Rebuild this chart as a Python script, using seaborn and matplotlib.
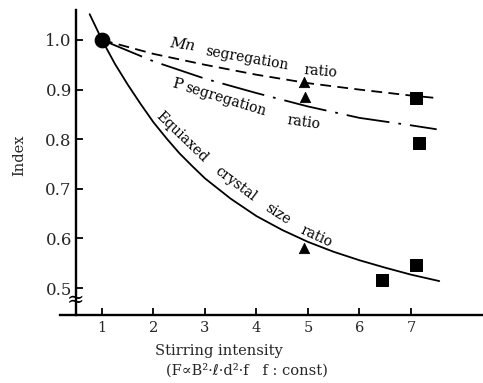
import numpy as np
import pandas as pd
import matplotlib
matplotlib.use("Agg")
import matplotlib.pyplot as plt
import seaborn as sns

# ---- data ----
eq_x = [0.76, 1.0, 1.25, 1.5, 1.75, 2.0, 2.25, 2.5, 2.75, 3.0, 3.5, 4.0, 4.5, 5.0, 5.5, 6.0, 6.5, 7.0, 7.55]
eq_y = [1.052, 1.0, 0.952, 0.910, 0.871, 0.834, 0.802, 0.772, 0.746, 0.721, 0.680, 0.645, 0.617, 0.593, 0.573, 0.556, 0.541, 0.527, 0.514]

mn_x = [1.0, 2.0, 3.0, 4.0, 5.0, 6.0, 7.0, 7.5]
mn_y = [1.0, 0.972, 0.950, 0.930, 0.913, 0.900, 0.888, 0.883]

p_x = [1.0, 2.0, 3.0, 4.0, 5.0, 6.0, 7.0, 7.5]
p_y = [1.0, 0.957, 0.922, 0.893, 0.866, 0.843, 0.828, 0.820]

circle_x, circle_y = [1.0], [1.0]
tri_x = [4.92, 4.95, 4.92]
tri_y = [0.915, 0.885, 0.580]
sq_x = [7.1, 7.16, 6.43, 7.1]
sq_y = [0.883, 0.793, 0.516, 0.546]

xticks = [1, 2, 3, 4, 5, 6, 7]
yticks = [1.0, 0.9, 0.8, 0.7, 0.6, 0.5]
ytick_labels = ["1.0", "0.9", "0.8", "0.7", "0.6", "0.5"]

sns.set_theme(style="white")
plt.rcParams["font.family"] = ["DejaVu Serif", "DejaVu Sans"]

fig = plt.figure(figsize=(4.83, 3.83), dpi=100)
W, H = 483, 383
ax = fig.add_axes([60 / W, (H - 315) / H, 423 / W, (315 - 8) / H])

lw = 1.3
sns.lineplot(x=eq_x, y=eq_y, ax=ax, color="black", lw=lw, sort=False)
sns.lineplot(x=mn_x, y=mn_y, ax=ax, color="black", lw=lw, sort=False,
             linestyle=(0, (6, 3.5)))
sns.lineplot(x=p_x, y=p_y, ax=ax, color="black", lw=lw, sort=False,
             linestyle=(0, (24, 5, 1.5, 5)))

sns.scatterplot(x=circle_x, y=circle_y, ax=ax, color="black", marker="o", s=110,
                edgecolor="black", zorder=5)
sns.scatterplot(x=tri_x, y=tri_y, ax=ax, color="black", marker="^", s=55,
                edgecolor="black", zorder=5)
sns.scatterplot(x=sq_x, y=sq_y, ax=ax, color="black", marker="s", s=80,
                edgecolor="black", zorder=5)

ax.set_xlim(0.184, 8.40)
ax.set_ylim(0.4456, 1.0645)

for s in ["top", "right"]:
    ax.spines[s].set_visible(False)
ax.spines["left"].set_position(("data", 0.495))
ax.spines["left"].set_bounds(0.4456, 1.06)
for s in ["left", "bottom"]:
    ax.spines[s].set_color("black")
    ax.spines[s].set_linewidth(1.7)

ax.set_xticks(xticks)
ax.set_xticklabels([str(t) for t in xticks], fontsize=10.5)
ax.set_yticks(yticks)
ax.set_yticklabels(ytick_labels, fontsize=12)
ax.tick_params(axis="both", direction="in", length=5, width=1.3, color="black",
               left=True, bottom=True)
ax.tick_params(axis="y", pad=3)
ax.tick_params(axis="x", pad=4)

# axis break mark
ax.text(0.495, 0.474, "≈", ha="center", va="center", fontsize=15, color="black")

# curve labels
def px2data(px, py):
    return 1 + (px - 102) / 51.5, 1.0 - (py - 40) / 496

labels = [
    ("Mn", 182, 45, -8, "italic"),
    ("segregation", 247, 58, -10, "normal"),
    ("ratio", 321, 71, -5, "normal"),
    ("P", 177, 84, -15, "normal"),
    ("segregation", 226, 100, -17, "normal"),
    ("ratio", 304, 122, -8, "normal"),
    ("Equiaxed", 182, 137, -44, "normal"),
    ("crystal", 236, 184, -37, "normal"),
    ("size", 278, 214, -33, "normal"),
    ("ratio", 316, 236, -25, "normal"),
]
for txt, px, py, rot, st in labels:
    x, y = px2data(px, py)
    ax.text(x, y, txt, ha="center", va="center", rotation=rot, rotation_mode="anchor",
            fontsize=11 if txt in ("Mn", "P") else 10, style=st, color="black")

fig.text(19 / W, 1 - 155 / H, "Index", rotation=90, ha="center", va="center", fontsize=10.5)
fig.text(219 / W, 1 - 351 / H, "Stirring intensity", ha="center", va="center", fontsize=10.5)
fig.text(247 / W, 1 - 370 / H, "(F∝B²·ℓ·d²·f   f : const)", ha="center", va="center",
         fontsize=10.5)

fig.savefig("out.png", dpi=100, facecolor="white")
